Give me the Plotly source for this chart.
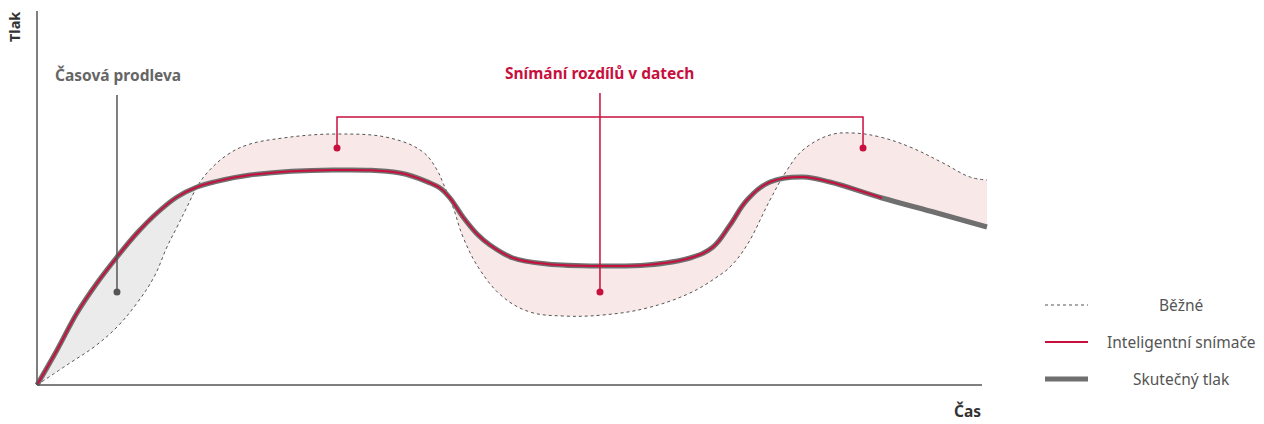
import plotly.graph_objects as go

# ---- data (time 0..100, pressure 0..100) ----
actual_x = [0, 2.11, 4.21, 6.32, 8.42, 10.53, 12.63, 14.74, 16.84, 18.63, 22.42, 31.16, 38.21,
            41.37, 42.42, 43.47, 44.84, 46.32, 47.68, 50.11, 53.68, 59.58, 64.21, 68.74, 71.16,
            72.95, 74.74, 77.16, 80.63, 83.47, 88.95, 94.74, 100]
actual_y = [0, 9.33, 19.2, 27.2, 34.13, 40.53, 45.87, 50.13, 52.8, 54.13, 56.0, 57.33, 56.53,
            53.87, 52.53, 49.87, 44.8, 40.27, 37.33, 33.87, 32.27, 31.73, 32.0, 33.87, 36.8,
            42.67, 49.33, 54.13, 55.47, 54.13, 49.87, 45.87, 42.13]
sensor_end_x = 88.95  # smart sensor follows actual pressure up to here

normal_x = [0, 3.47, 6.0, 8.42, 10.53, 12.32, 13.68, 14.74, 15.79, 16.84, 17.89, 20.0,
            22.11, 25.89, 31.58, 37.16, 40.63, 42.11, 42.74, 43.79, 44.84, 46.63, 49.05, 51.89,
            55.37, 59.58, 64.21, 68.74, 71.58, 72.95, 74.74, 77.16, 78.95, 80.63, 83.47, 85.89,
            88.74, 91.89, 95.37, 98.21, 100]
normal_y = [0, 5.87, 10.13, 15.47, 21.87, 28.8, 36.8, 42.13, 47.47, 52.8, 56.53, 61.33,
            64.0, 65.87, 66.93, 65.87, 62.13, 57.33, 53.87, 47.47, 39.47, 30.67, 23.47, 19.47,
            18.4, 18.67, 20.53, 24.53, 28.8, 31.47, 37.33, 49.33, 57.33, 62.67, 66.67, 67.2,
            66.13, 63.47, 59.2, 55.47, 54.67]
cross_x = 16.84  # where the curves cross (lag region ends)

# callouts
lag_label = "Časová prodleva"
lag_line_x = [8.42, 8.42]
lag_line_y = [77.33, 24.8]
diff_label = "Snímání rozdílů v datech"
diff_stem_x = [59.26, 59.26]
diff_stem_y = [77.87, 24.8]
diff_bracket_x = [31.58, 31.58, 86.95, 86.95]
diff_bracket_y = [63.2, 71.47, 71.47, 63.2]

legend_names = ["Běžné", "Inteligentní snímače", "Skutečný tlak"]
axis_x_title = "Čas"
axis_y_title = "Tlak"

RED = "#c8103e"
GRAY_LINE = "#6f6f6f"
DARK = "#555555"
FONT = "Noto Sans"
SMOOTH = 1.1

cn = normal_x.index(cross_x)
ca = actual_x.index(cross_x)
se = actual_x.index(sensor_end_x)

fig = go.Figure()


def band(nx, ny, ax, ay, color):
    fig.add_trace(go.Scatter(x=nx, y=ny, mode="lines",
                             line=dict(width=0, shape="spline", smoothing=SMOOTH),
                             hoverinfo="skip", showlegend=False))
    fig.add_trace(go.Scatter(x=ax, y=ay, mode="lines", fill="tonexty", fillcolor=color,
                             line=dict(width=0, shape="spline", smoothing=SMOOTH),
                             hoverinfo="skip", showlegend=False))


# gray fill (lag) and pink fill (differences)
band(normal_x[:cn + 1], normal_y[:cn + 1], actual_x[:ca + 1], actual_y[:ca + 1], "#ebebeb")
band(normal_x[cn:], normal_y[cn:], actual_x[ca:], actual_y[ca:], "#f8e8e8")

# normal sensor (dotted)
fig.add_trace(go.Scatter(x=normal_x, y=normal_y, mode="lines",
                         line=dict(color=DARK, width=1, dash="dot", shape="spline",
                                   smoothing=SMOOTH),
                         showlegend=False, name=legend_names[0]))
# actual pressure (thick gray)
fig.add_trace(go.Scatter(x=actual_x, y=actual_y, mode="lines",
                         line=dict(color=GRAY_LINE, width=5, shape="spline", smoothing=SMOOTH),
                         showlegend=False, name=legend_names[2]))
# smart sensor (red)
fig.add_trace(go.Scatter(x=actual_x[:se + 1], y=actual_y[:se + 1], mode="lines",
                         line=dict(color=RED, width=2, shape="spline", smoothing=SMOOTH),
                         showlegend=False, name=legend_names[1]))

# callout lines
fig.add_trace(go.Scatter(x=lag_line_x, y=lag_line_y, mode="lines",
                         line=dict(color=DARK, width=1.5), hoverinfo="skip", showlegend=False))
fig.add_trace(go.Scatter(x=lag_line_x[-1:], y=lag_line_y[-1:], mode="markers",
                         marker=dict(color=DARK, size=7), hoverinfo="skip", showlegend=False))
fig.add_trace(go.Scatter(x=diff_stem_x, y=diff_stem_y, mode="lines",
                         line=dict(color=RED, width=1.5), hoverinfo="skip", showlegend=False))
fig.add_trace(go.Scatter(x=diff_bracket_x, y=diff_bracket_y, mode="lines",
                         line=dict(color=RED, width=1.5), hoverinfo="skip", showlegend=False))
fig.add_trace(go.Scatter(x=[diff_stem_x[-1], diff_bracket_x[0], diff_bracket_x[-1]],
                         y=[diff_stem_y[-1], diff_bracket_y[0], diff_bracket_y[-1]],
                         mode="markers", marker=dict(color=RED, size=7),
                         hoverinfo="skip", showlegend=False))

# plot area mapping: px = 37 + 9.5*x ; py = 385 - 3.75*y
L, R, T, B = 27, 992, 5, 395
W, H = 1264, 424
xr = [(L - 37) / 9.5, (R - 37) / 9.5]
yr = [(385 - B) / 3.75, (385 - T) / 3.75]


def px(xp):
    return (xp - L) / (R - L)


def py(yp):
    return (B - yp) / (B - T)


shapes = [
    dict(type="line", xref="x", yref="y", x0=0, y0=0, x1=(982 - 37) / 9.5, y1=0,
         line=dict(color=DARK, width=1.5)),
    dict(type="line", xref="x", yref="y", x0=0, y0=0, x1=0, y1=(385 - 11) / 3.75,
         line=dict(color=DARK, width=1.5)),
]
annotations = [
    dict(text=lag_label, x=(53 - 37) / 9.5, y=(385 - 75) / 3.75, xref="x", yref="y",
         xanchor="left", yanchor="middle", showarrow=False,
         font=dict(family=FONT, size=15.5, color="#666666", weight="bold")),
    dict(text=diff_label, x=diff_stem_x[0], y=(385 - 73) / 3.75, xref="x", yref="y",
         xanchor="center", yanchor="middle", showarrow=False,
         font=dict(family=FONT, size=15.5, color=RED, weight="bold")),
    dict(text=axis_x_title, x=px(983), y=py(411), xref="paper", yref="paper",
         xanchor="right", yanchor="middle", showarrow=False,
         font=dict(family=FONT, size=15.5, color="#333333", weight="bold")),
    dict(text=axis_y_title, x=px(14), y=py(27), xref="paper", yref="paper",
         xanchor="center", yanchor="middle", showarrow=False, textangle=-90,
         font=dict(family=FONT, size=14.5, color="#333333", weight="bold")),
]

# manual legend
legend_rows = [305, 342, 379]
legend_styles = [dict(color=DARK, width=1, dash="dot"),
                 dict(color=RED, width=2),
                 dict(color=GRAY_LINE, width=5)]
for name, row, style in zip(legend_names, legend_rows, legend_styles):
    shapes.append(dict(type="line", xref="paper", yref="paper",
                       x0=px(1045), x1=px(1088), y0=py(row), y1=py(row), line=style))
    annotations.append(dict(text=name, x=px(1181), y=py(row), xref="paper", yref="paper",
                            xanchor="center", yanchor="middle", showarrow=False,
                            font=dict(family=FONT, size=15.5, color=DARK)))

fig.update_layout(
    width=W, height=H,
    margin=dict(l=L, r=W - R, t=T, b=H - B),
    paper_bgcolor="white", plot_bgcolor="white",
    xaxis=dict(range=xr, visible=False, fixedrange=True),
    yaxis=dict(range=yr, visible=False, fixedrange=True),
    shapes=shapes, annotations=annotations,
    showlegend=False,
    font=dict(family=FONT),
)

fig.write_html("out.html", config={"displayModeBar": False},
               post_script="document.body.style.margin='0';document.body.style.overflow='hidden';")
